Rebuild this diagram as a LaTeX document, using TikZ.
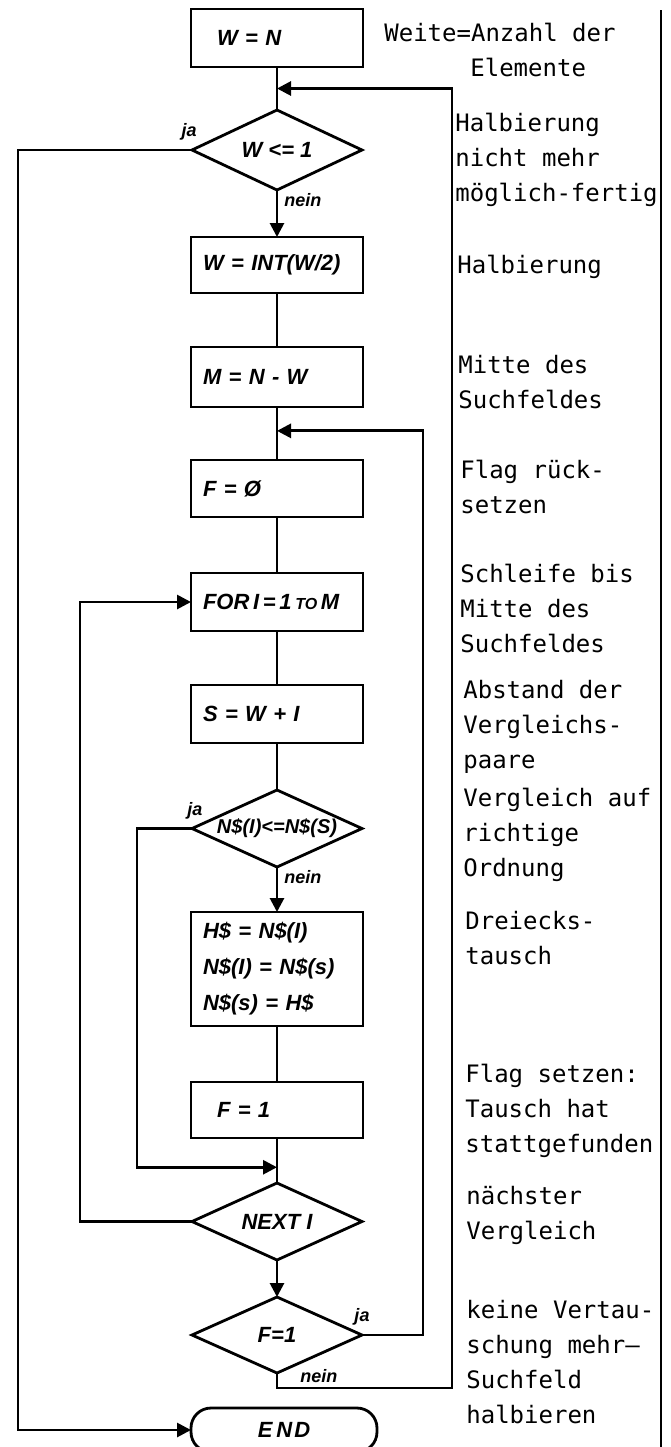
\documentclass[tikz,border=0pt]{standalone}
\usepackage{fontspec}
\usepackage{tikz}
\usetikzlibrary{positioning,arrows.meta,calc,shapes.geometric}
\newfontfamily\handfont{Liberation Sans}
\newfontfamily\typefont{DejaVu Sans Mono}
\tikzset{
  action/.style = {draw, line width=1.4pt, outer sep=0pt, minimum width=86pt, text width=74pt,
                   inner xsep=6pt, align=left,
                   font=\handfont\bfseries\itshape\fontsize{11}{18}\selectfont},
  query/.style  = {draw, line width=1.4pt, outer sep=0pt, diamond, shape aspect=2.2, inner sep=0pt,
                   minimum width=85pt, minimum height=38.5pt, align=center,
                   font=\handfont\bfseries\itshape\fontsize{11}{12}\selectfont},
  finish/.style = {draw, line width=1.4pt, outer sep=0pt, rounded corners=10pt, minimum width=93pt,
                   minimum height=22pt,
                   font=\handfont\bfseries\itshape\fontsize{11}{12}\selectfont},
  flow/.style   = {line width=1.4pt},
  back/.style   = {line width=1.4pt, -{Triangle[length=7pt,width=7pt]}},
  ans/.style    = {font=\handfont\bfseries\itshape\fontsize{9}{10}\selectfont, inner sep=1pt},
  remark/.style = {anchor=west, align=left, inner sep=0pt,
                   font=\typefont\fontsize{12}{17.5}\selectfont},
}
\begin{document}
\begin{tikzpicture}[x=0.5pt, y=0.5pt]
\useasboundingbox (0,0) rectangle (670,-1447);

% main column
\node[action, minimum height=29pt] (wn) at (277,-38) {\hspace*{7pt}W = N};
\node[query, minimum height=40pt, below=21.5pt of wn] (wtest) {W <= 1};
\node[action, minimum height=28pt, below=23.5pt of wtest] (halve) {W = INT(W/2)};
\node[action, minimum height=30pt, below=27pt of halve] (mid) {M = N - W};
\node[action, minimum height=28.5pt, below=26.5pt of mid] (clr) {F = Ø};
\node[action, minimum height=29pt, below=28pt of clr] (loop)
  {FOR\,I\,=\,1\,{\fontsize{8}{9}\selectfont TO}\,M};
\node[action, minimum height=29pt, below=27pt of loop] (dist) {S = W + I};
\node[query, font=\handfont\bfseries\itshape\fontsize{10}{12}\selectfont,
      below=23.5pt of dist] (cmp) {N\$(I)<=N\$(S)};
\node[action, minimum height=57pt, below=22.5pt of cmp] (swap)
  {H\$ = N\$(I)\\N\$(I) = N\$(s)\\N\$(s) = H\$};
\node[action, minimum height=28pt, below=28pt of swap] (set) {\hspace*{7pt}F = 1};
\node[query, below=22.5pt of set] (next) {NEXT I};
\node[query, minimum height=38pt, below=18.5pt of next] (ftest) {F=1};
\node[finish, below=17.5pt of ftest, xshift=3.5pt] (fin) {E\kern2pt N\kern1pt D};

% junctions and return columns
\coordinate (jtop)  at ($(wn.south)!0.5!(wtest.north)$);
\coordinate (again) at ($(mid.south)!0.45!(clr.north)$);
\coordinate (join)  at ($(set.south)!0.65!(next.north)$);
\coordinate (lft)   at (18,0);
\coordinate (rng)   at (80,0);
\coordinate (skip)  at (137,0);
\coordinate (rin)   at (423,0);
\coordinate (rout)  at (452,0);
\coordinate (nbot)  at ($(ftest.south)+(0,-15)$);

\draw[flow] (wn) -- (wtest);
\draw[back] (wtest) -- node[ans, pos=0, anchor=north west, xshift=2pt] {nein} (halve);
\draw[flow] (halve) -- (mid);
\draw[flow] (mid) -- (clr);
\draw[flow] (clr) -- (loop);
\draw[flow] (loop) -- (dist);
\draw[flow] (dist) -- (cmp);
\draw[back] (cmp) -- node[ans, pos=0, anchor=north west, xshift=2pt] {nein} (swap);
\draw[flow] (swap) -- (set);
\draw[flow] (set) -- (next);
\draw[back] (next) -- (ftest);

\draw[back] (wtest.west) node[ans, anchor=south east, xshift=4pt, yshift=3pt] {ja}
  -- (wtest.west -| lft) |- (fin.west);
\draw[back] (cmp.west) node[ans, anchor=south, xshift=1.5pt, yshift=3pt] {ja}
  -- (cmp.west -| skip) |- (join);
\draw[back] (next.west) -- (next.west -| rng) |- (loop.west);
\draw[back] (ftest.east) node[ans, anchor=south, yshift=3pt] {ja}
  -- (ftest.east -| rin) |- (again);
\draw[back] (ftest.south) -- (nbot) node[ans, anchor=south west, xshift=10pt, yshift=1pt] {nein}
  -- (nbot -| rout) |- (jtop);

% right margin rule
\draw[flow] (661,-10) -- (661,-1447);

% notes
\node[remark] (n1)  at (384,-50)   {Weite=Anzahl der\\\hspace*{43pt}Elemente};
\node[remark] (n2)  at (455,-160)  {Halbierung\\nicht mehr\\möglich-fertig};
\node[remark] (n3)  at (457,-267)  {Halbierung};
\node[remark] (n4)  at (458,-382)  {Mitte des\\Suchfeldes};
\node[remark] (n5)  at (460,-487)  {Flag rück-\\setzen};
\node[remark] (n6)  at (460,-608)  {Schleife bis\\Mitte des\\Suchfeldes};
\node[remark] (n7)  at (463,-727)  {Abstand der\\Vergleichs-\\paare};
\node[remark] (n8)  at (463,-835)  {Vergleich auf\\richtige\\Ordnung};
\node[remark] (n9)  at (465,-938)  {Dreiecks-\\tausch};
\node[remark] (n10) at (465,-1111) {Flag setzen:\\Tausch hat\\stattgefunden};
\node[remark] (n11) at (466,-1215) {nächster\\Vergleich};
\node[remark] (n12) at (466,-1362) {keine Vertau-\\schung mehr—\\Suchfeld\\halbieren};

\end{tikzpicture}
\end{document}
